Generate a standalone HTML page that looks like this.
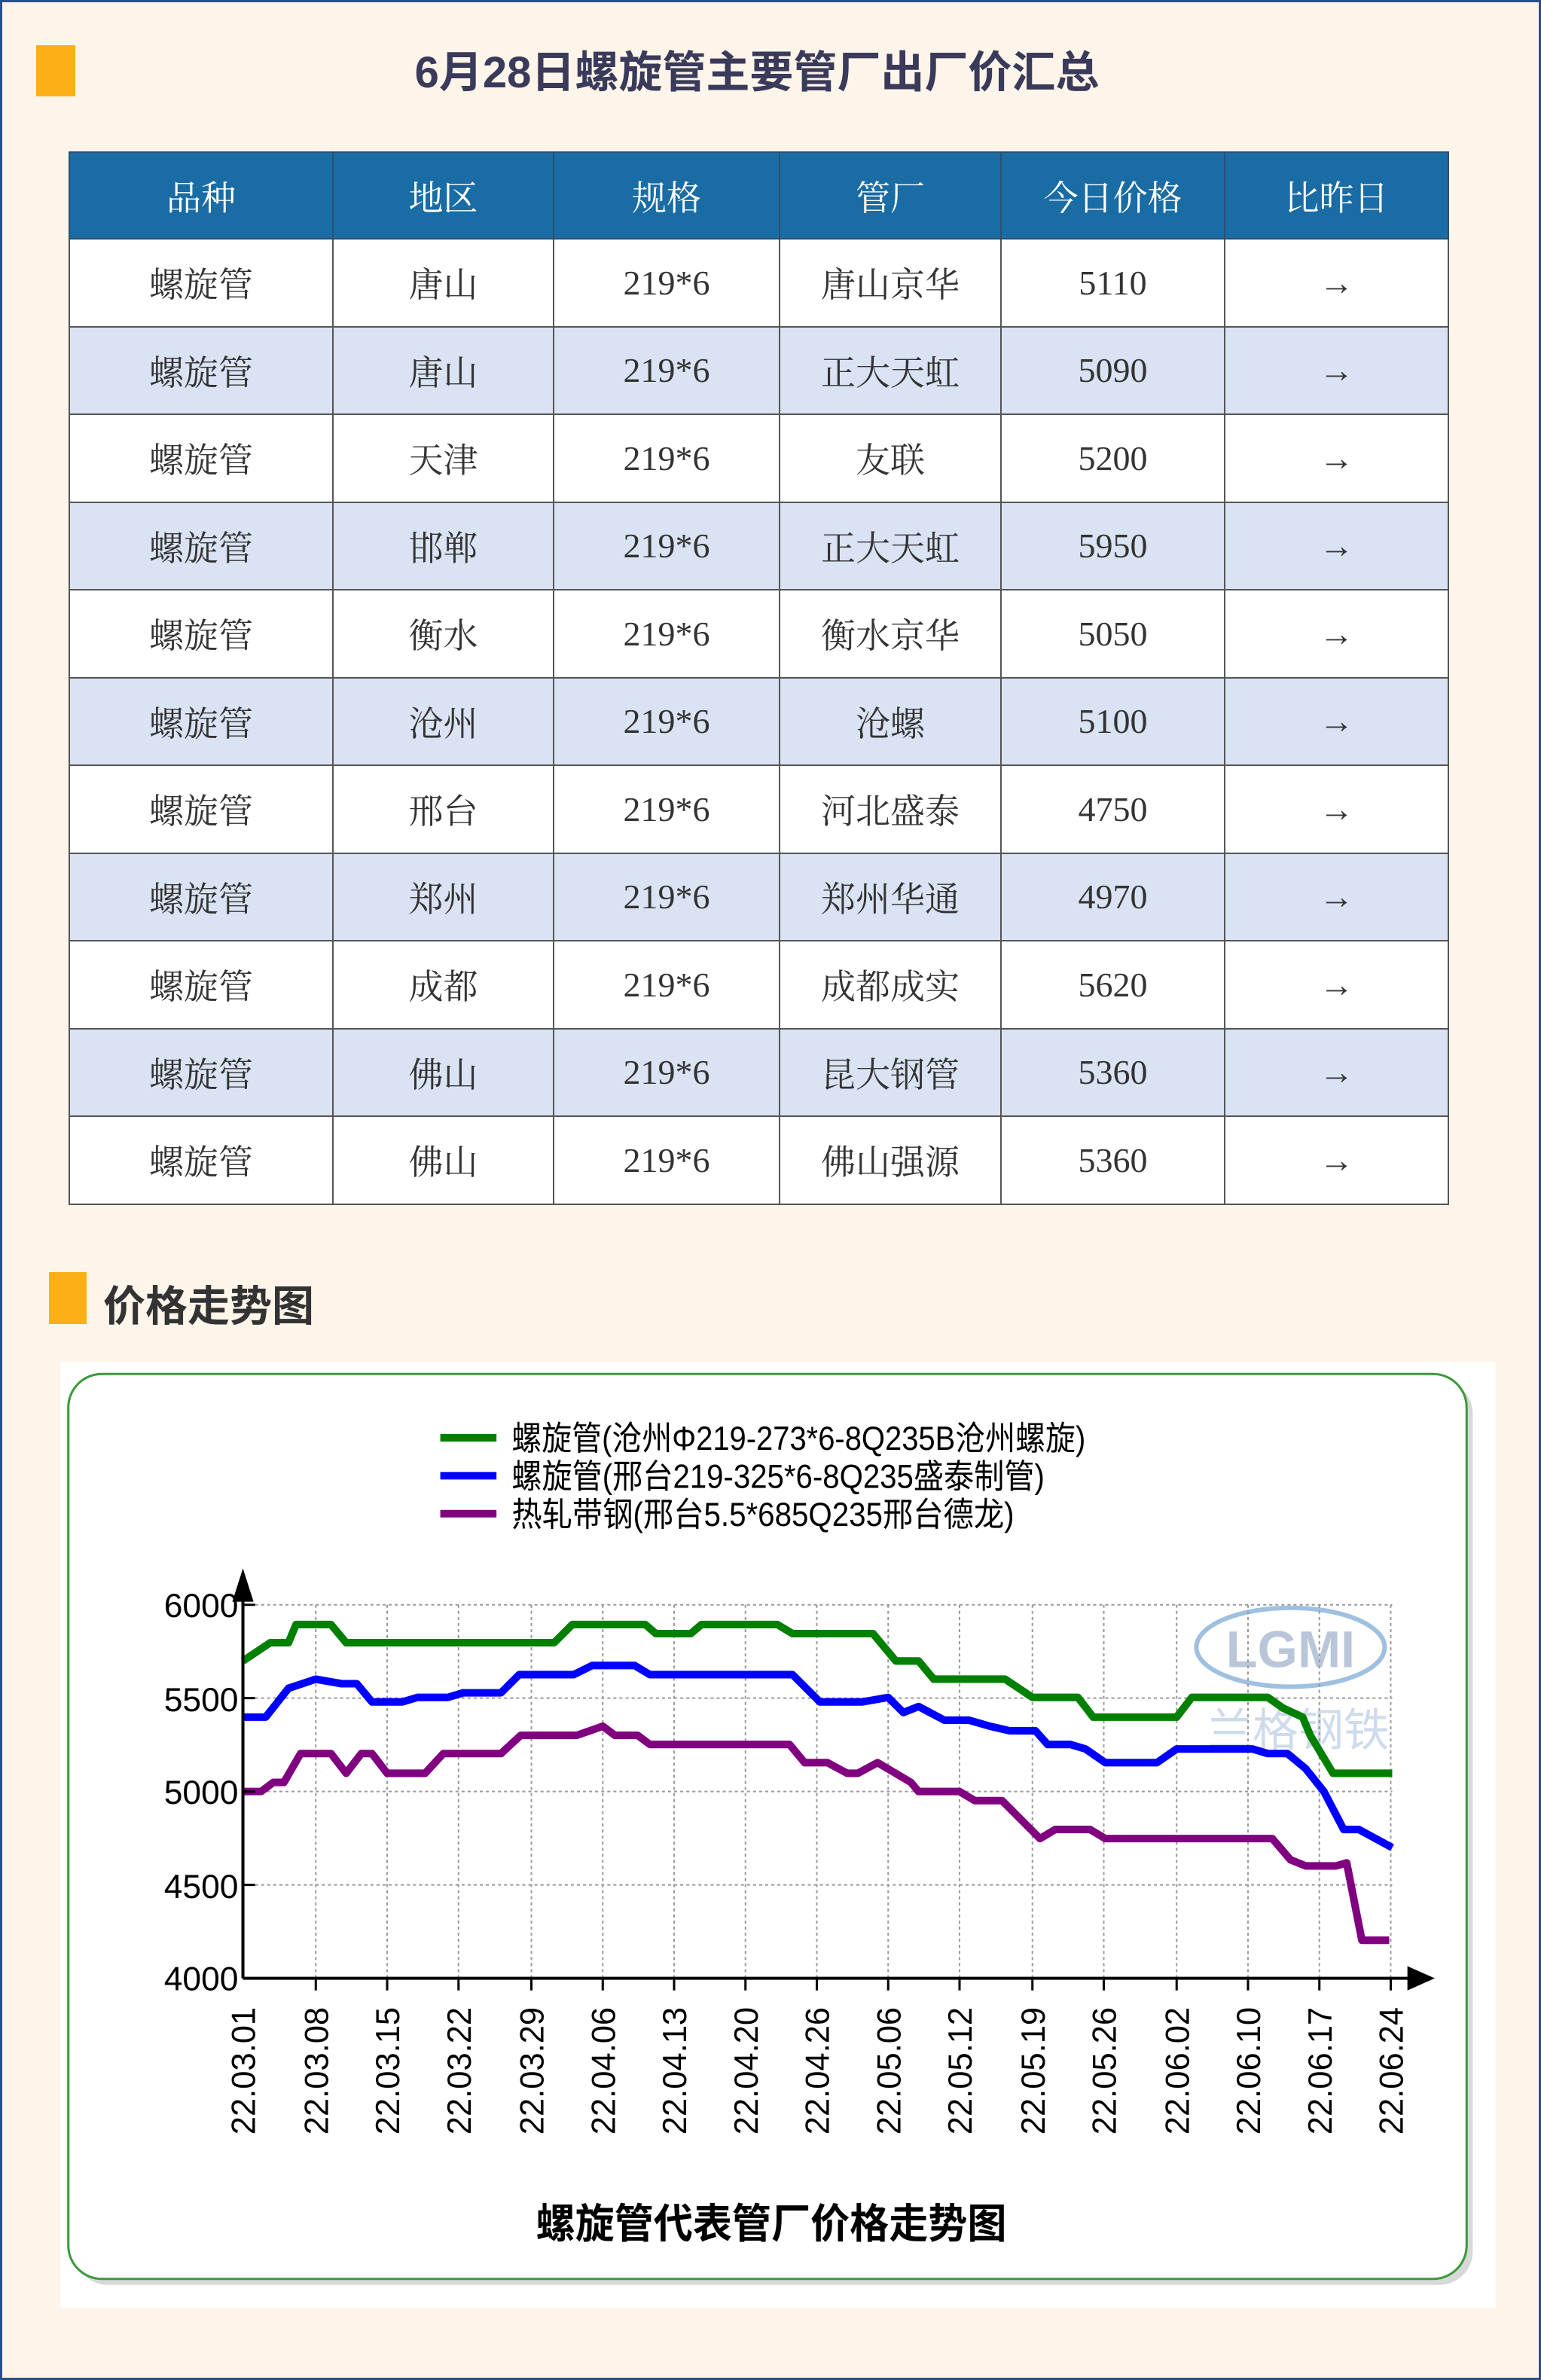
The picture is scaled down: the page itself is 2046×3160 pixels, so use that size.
<!DOCTYPE html>
<html><head><meta charset="utf-8"><style>
*{margin:0;padding:0;box-sizing:border-box}
body{width:2046px;height:3160px;background:#fdf5ea;position:relative;overflow:hidden;font-family:"Liberation Serif","Noto Serif CJK SC",serif}
.frame{position:absolute;left:0;top:0;width:2046px;height:3160px;border:3px solid #2a4f8f}
.bar{position:absolute;background:#fdaf17}
.title{position:absolute;left:380px;width:1250px;top:60px;text-align:center;font:bold 58px "Liberation Sans","Noto Sans CJK SC",sans-serif;color:#3a3a5a;line-height:74px}
table{position:absolute;left:91px;top:201px;width:1831px;border-collapse:collapse;table-layout:fixed}
td,th{border:2px solid #555;text-align:center;font-size:46px;color:#333;font-weight:normal}
th{background:#1a6ca4;color:#fff;height:115px;border-color:#2a5070}
td{height:116.5px}
tr:nth-child(odd) td{background:#dae3f3}
tr:nth-child(even) td{background:#fff}
.sec{position:absolute;left:137px;top:1690px;font:bold 56px "Liberation Sans","Noto Sans CJK SC",sans-serif;color:#333}
</style></head><body>
<div class="frame"></div>
<div class="bar" style="left:48px;top:60px;width:52px;height:68px"></div>
<div class="title">6月28日螺旋管主要管厂出厂价汇总</div>
<table>
<colgroup><col style="width:350px"><col style="width:293px"><col style="width:300px"><col style="width:294px"><col style="width:297px"><col style="width:297px"></colgroup>
<tr><th>品种</th><th>地区</th><th>规格</th><th>管厂</th><th>今日价格</th><th>比昨日</th></tr>
<tr><td>螺旋管</td><td>唐山</td><td>219*6</td><td>唐山京华</td><td>5110</td><td>→</td></tr>
<tr><td>螺旋管</td><td>唐山</td><td>219*6</td><td>正大天虹</td><td>5090</td><td>→</td></tr>
<tr><td>螺旋管</td><td>天津</td><td>219*6</td><td>友联</td><td>5200</td><td>→</td></tr>
<tr><td>螺旋管</td><td>邯郸</td><td>219*6</td><td>正大天虹</td><td>5950</td><td>→</td></tr>
<tr><td>螺旋管</td><td>衡水</td><td>219*6</td><td>衡水京华</td><td>5050</td><td>→</td></tr>
<tr><td>螺旋管</td><td>沧州</td><td>219*6</td><td>沧螺</td><td>5100</td><td>→</td></tr>
<tr><td>螺旋管</td><td>邢台</td><td>219*6</td><td>河北盛泰</td><td>4750</td><td>→</td></tr>
<tr><td>螺旋管</td><td>郑州</td><td>219*6</td><td>郑州华通</td><td>4970</td><td>→</td></tr>
<tr><td>螺旋管</td><td>成都</td><td>219*6</td><td>成都成实</td><td>5620</td><td>→</td></tr>
<tr><td>螺旋管</td><td>佛山</td><td>219*6</td><td>昆大钢管</td><td>5360</td><td>→</td></tr>
<tr><td>螺旋管</td><td>佛山</td><td>219*6</td><td>佛山强源</td><td>5360</td><td>→</td></tr>
</table>
<div class="bar" style="left:65px;top:1689px;width:50px;height:69px"></div>
<div class="sec">价格走势图</div>
<svg style="position:absolute;left:0;top:0" width="2046" height="3160" viewBox="0 0 2046 3160">
<g transform="scale(2.0158)" font-family="Liberation Sans, Noto Sans CJK SC, sans-serif">
<rect x="40" y="897" width="945" height="623" fill="#fff"/>
<rect x="49" y="909" width="921" height="596" rx="22" fill="#d8d8d8"/>
<rect x="45" y="905" width="921" height="596" rx="22" fill="#fff" stroke="#3a9a3a" stroke-width="1.5"/>
<g stroke-width="5"><line x1="290" y1="947" x2="327" y2="947" stroke="#008000"/><line x1="290" y1="972" x2="327" y2="972" stroke="#0000ff"/><line x1="290" y1="997" x2="327" y2="997" stroke="#800080"/></g>
<g font-size="22" fill="#000">
<text x="337" y="955" textLength="378" lengthAdjust="spacingAndGlyphs">螺旋管(沧州Φ219-273*6-8Q235B沧州螺旋)</text>
<text x="337" y="980" textLength="351" lengthAdjust="spacingAndGlyphs">螺旋管(邢台219-325*6-8Q235盛泰制管)</text>
<text x="337" y="1005" textLength="331" lengthAdjust="spacingAndGlyphs">热轧带钢(邢台5.5*685Q235邢台德龙)</text>
</g>
<ellipse cx="850" cy="1085" rx="62" ry="26" fill="none" stroke="#9fc0e0" stroke-width="3"/>
<text x="850" y="1098" text-anchor="middle" font-size="34" font-weight="bold" fill="#a8b8d0" opacity="0.8">LGMI</text>
<text x="855" y="1150" text-anchor="middle" font-size="30" fill="#b8cce4" opacity="0.7">兰格钢铁</text>
<g stroke="#999" stroke-width="1" stroke-dasharray="2,2" fill="none">
<path d="M160 1057H917M160 1118.5H917M160 1180H917M160 1241.5H917"/>
<path d="M208 1057V1303M255 1057V1303M302 1057V1303M350 1057V1303M397 1057V1303M444 1057V1303M491 1057V1303M538 1057V1303M585 1057V1303M632 1057V1303M680 1057V1303M727 1057V1303M775 1057V1303M822 1057V1303M869 1057V1303M916 1057V1303"/>
</g>
<g fill="none" stroke-width="5" stroke-linejoin="round">
<polyline stroke="#008000" points="160,1094 178,1082 190,1082 195,1070 218,1070 228,1082 365,1082 377,1070 425,1070 432,1076 455,1076 462,1070 512,1070 522,1076 575,1076 590,1094 605,1094 615,1106 662,1106 680,1118 710,1118 720,1131 775,1131 785,1118 835,1118 845,1125 858,1131 863,1143 878,1168 917,1168"/>
<polyline stroke="#0000ff" points="160,1131 175,1131 190,1112 208,1106 225,1109 235,1109 245,1121 265,1121 275,1118 295,1118 305,1115 330,1115 342,1103 378,1103 390,1097 418,1097 428,1103 522,1103 540,1121 568,1121 585,1118 595,1128 605,1124 622,1133 638,1133 652,1137 665,1140 682,1140 690,1149 705,1149 715,1152 728,1161 762,1161 775,1152 825,1152 835,1155 848,1155 860,1165 872,1180 885,1205 895,1205 917,1217"/>
<polyline stroke="#800080" points="160,1180 172,1180 180,1174 187,1174 198,1155 218,1155 228,1168 238,1155 245,1155 255,1168 280,1168 292,1155 330,1155 343,1143 380,1143 397,1137 405,1143 420,1143 428,1149 520,1149 530,1161 545,1161 558,1168 565,1168 578,1161 600,1174 605,1180 632,1180 642,1186 660,1186 672,1198 685,1211 695,1205 718,1205 728,1211 838,1211 850,1225 860,1229 880,1229 887,1227 897,1278 915,1278"/>
</g>
<g stroke="#000" stroke-width="2">
<line x1="160" y1="1303" x2="930" y2="1303"/><line x1="160" y1="1303" x2="160" y2="1045"/>
<path d="M160 1118.5h8M160 1180h8M160 1241.5h8M160 1057h8" stroke-width="1.5"/>
<path d="M208 1303v8M255 1303v8M302 1303v8M350 1303v8M397 1303v8M444 1303v8M491 1303v8M538 1303v8M585 1303v8M632 1303v8M680 1303v8M727 1303v8M775 1303v8M822 1303v8M869 1303v8M916 1303v8" stroke-width="1.5"/>
</g>
<path d="M160 1033 L153 1055 L167 1055Z M945 1303 L927 1295 L927 1311Z" fill="#000"/>
<g font-size="22" fill="#000" text-anchor="end">
<text x="157" y="1065" textLength="49" lengthAdjust="spacingAndGlyphs">6000</text>
<text x="157" y="1127" textLength="49" lengthAdjust="spacingAndGlyphs">5500</text>
<text x="157" y="1188" textLength="49" lengthAdjust="spacingAndGlyphs">5000</text>
<text x="157" y="1250" textLength="49" lengthAdjust="spacingAndGlyphs">4500</text>
<text x="157" y="1311" textLength="49" lengthAdjust="spacingAndGlyphs">4000</text>
</g>
<g font-size="22" fill="#000">
<text transform="translate(168,1406) rotate(-90)" textLength="84" lengthAdjust="spacingAndGlyphs">22.03.01</text>
<text transform="translate(216,1406) rotate(-90)" textLength="84" lengthAdjust="spacingAndGlyphs">22.03.08</text>
<text transform="translate(263,1406) rotate(-90)" textLength="84" lengthAdjust="spacingAndGlyphs">22.03.15</text>
<text transform="translate(310,1406) rotate(-90)" textLength="84" lengthAdjust="spacingAndGlyphs">22.03.22</text>
<text transform="translate(358,1406) rotate(-90)" textLength="84" lengthAdjust="spacingAndGlyphs">22.03.29</text>
<text transform="translate(405,1406) rotate(-90)" textLength="84" lengthAdjust="spacingAndGlyphs">22.04.06</text>
<text transform="translate(452,1406) rotate(-90)" textLength="84" lengthAdjust="spacingAndGlyphs">22.04.13</text>
<text transform="translate(499,1406) rotate(-90)" textLength="84" lengthAdjust="spacingAndGlyphs">22.04.20</text>
<text transform="translate(546,1406) rotate(-90)" textLength="84" lengthAdjust="spacingAndGlyphs">22.04.26</text>
<text transform="translate(593,1406) rotate(-90)" textLength="84" lengthAdjust="spacingAndGlyphs">22.05.06</text>
<text transform="translate(640,1406) rotate(-90)" textLength="84" lengthAdjust="spacingAndGlyphs">22.05.12</text>
<text transform="translate(688,1406) rotate(-90)" textLength="84" lengthAdjust="spacingAndGlyphs">22.05.19</text>
<text transform="translate(735,1406) rotate(-90)" textLength="84" lengthAdjust="spacingAndGlyphs">22.05.26</text>
<text transform="translate(783,1406) rotate(-90)" textLength="84" lengthAdjust="spacingAndGlyphs">22.06.02</text>
<text transform="translate(830,1406) rotate(-90)" textLength="84" lengthAdjust="spacingAndGlyphs">22.06.10</text>
<text transform="translate(877,1406) rotate(-90)" textLength="84" lengthAdjust="spacingAndGlyphs">22.06.17</text>
<text transform="translate(924,1406) rotate(-90)" textLength="84" lengthAdjust="spacingAndGlyphs">22.06.24</text>
</g>
<text x="508" y="1474" text-anchor="middle" font-size="27" font-weight="bold" fill="#000" textLength="310" lengthAdjust="spacingAndGlyphs">螺旋管代表管厂价格走势图</text>
</g>
</svg>
</body></html>
